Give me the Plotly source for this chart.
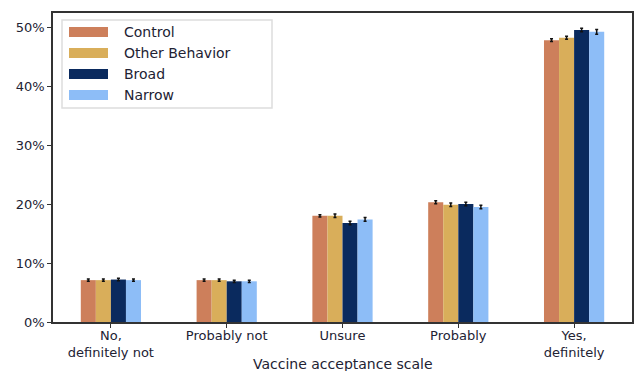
import plotly.graph_objects as go

categories = ["No,<br>definitely not", "Probably not", "Unsure", "Probably", "Yes,<br>definitely"]
series_names = ["Control", "Other Behavior", "Broad", "Narrow"]
control = [7.1, 7.1, 18.0, 20.3, 47.8]
other_behavior = [7.1, 7.1, 18.0, 19.9, 48.2]
broad = [7.2, 6.9, 16.8, 20.0, 49.5]
narrow = [7.1, 6.9, 17.4, 19.5, 49.2]
control_err = [0.2, 0.2, 0.2, 0.25, 0.25]
other_err = [0.2, 0.2, 0.3, 0.3, 0.25]
broad_err = [0.2, 0.2, 0.3, 0.3, 0.3]
narrow_err = [0.2, 0.2, 0.3, 0.3, 0.4]
colors = ["#CD7F5B", "#D9AE5A", "#0A2A5E", "#8DBDF7"]
y_ticks = [0, 10, 20, 30, 40, 50]
y_tick_labels = [f"{v}%" for v in y_ticks]

values = [control, other_behavior, broad, narrow]
errors = [control_err, other_err, broad_err, narrow_err]

fig = go.Figure()
for name, vals, errs, col in zip(series_names, values, errors, colors):
    fig.add_trace(go.Bar(
        x=list(range(len(categories))), y=vals, name=name,
        marker=dict(color=col, line=dict(width=0)),
        error_y=dict(type="data", array=errs, color="#111111", thickness=1.5, width=1.5),
        showlegend=False,
    ))

font_family = "DejaVu Sans, Liberation Sans, sans-serif"
text_color = "#222233"

fig.update_layout(
    width=635, height=371,
    margin=dict(l=53, r=3, t=13, b=49),
    paper_bgcolor="white", plot_bgcolor="white",
    barmode="group", bargap=0.48, bargroupgap=0,
    font=dict(family=font_family, size=14, color=text_color),
    xaxis=dict(
        range=[-0.5, 4.5], tickmode="array", tickvals=list(range(len(categories))),
        ticktext=categories, ticks="outside", ticklen=4, tickcolor="#333333",
        showline=True, linecolor="#333333", linewidth=1.5, mirror=True,
        showgrid=False, zeroline=False, automargin=False,
        ticklabelstandoff=-3,
        tickfont=dict(size=13, color=text_color),
    ),
    yaxis=dict(
        range=[0, 52.4], tickmode="array", tickvals=y_ticks, ticktext=y_tick_labels,
        ticks="outside", ticklen=4, tickcolor="#333333",
        showline=True, linecolor="#333333", linewidth=1.5, mirror=True,
        showgrid=False, zeroline=False, automargin=False,
        tickfont=dict(size=13, color=text_color),
    ),
)

# Axis title placed below the two-line category labels
fig.add_annotation(xref="paper", yref="paper", x=0.5, y=-(364 - 322) / 309,
                   text="Vaccine acceptance scale", showarrow=False,
                   xanchor="center", yanchor="middle",
                   font=dict(size=14, color=text_color))

# Legend drawn as a framed box with wide colour swatches
fig.add_shape(type="rect", xref="paper", yref="paper",
              x0=(62 - 53) / 579, x1=(272 - 53) / 579,
              y0=(322 - 108) / 309, y1=(322 - 20) / 309,
              line=dict(color="#DDDDDD", width=1.5), fillcolor="white")
for i, (name, col) in enumerate(zip(series_names, colors)):
    yc = 32 + i * 21
    fig.add_shape(type="rect", xref="paper", yref="paper",
                  x0=(69 - 53) / 579, x1=(108 - 53) / 579,
                  y0=(322 - yc - 5) / 309, y1=(322 - yc + 5) / 309,
                  line=dict(width=0), fillcolor=col)
    fig.add_annotation(xref="paper", yref="paper",
                       x=(122 - 53) / 579, y=(322 - yc) / 309,
                       text=name, showarrow=False, xanchor="left", yanchor="middle",
                       font=dict(size=14, color=text_color))

fig.write_html("out.html")
